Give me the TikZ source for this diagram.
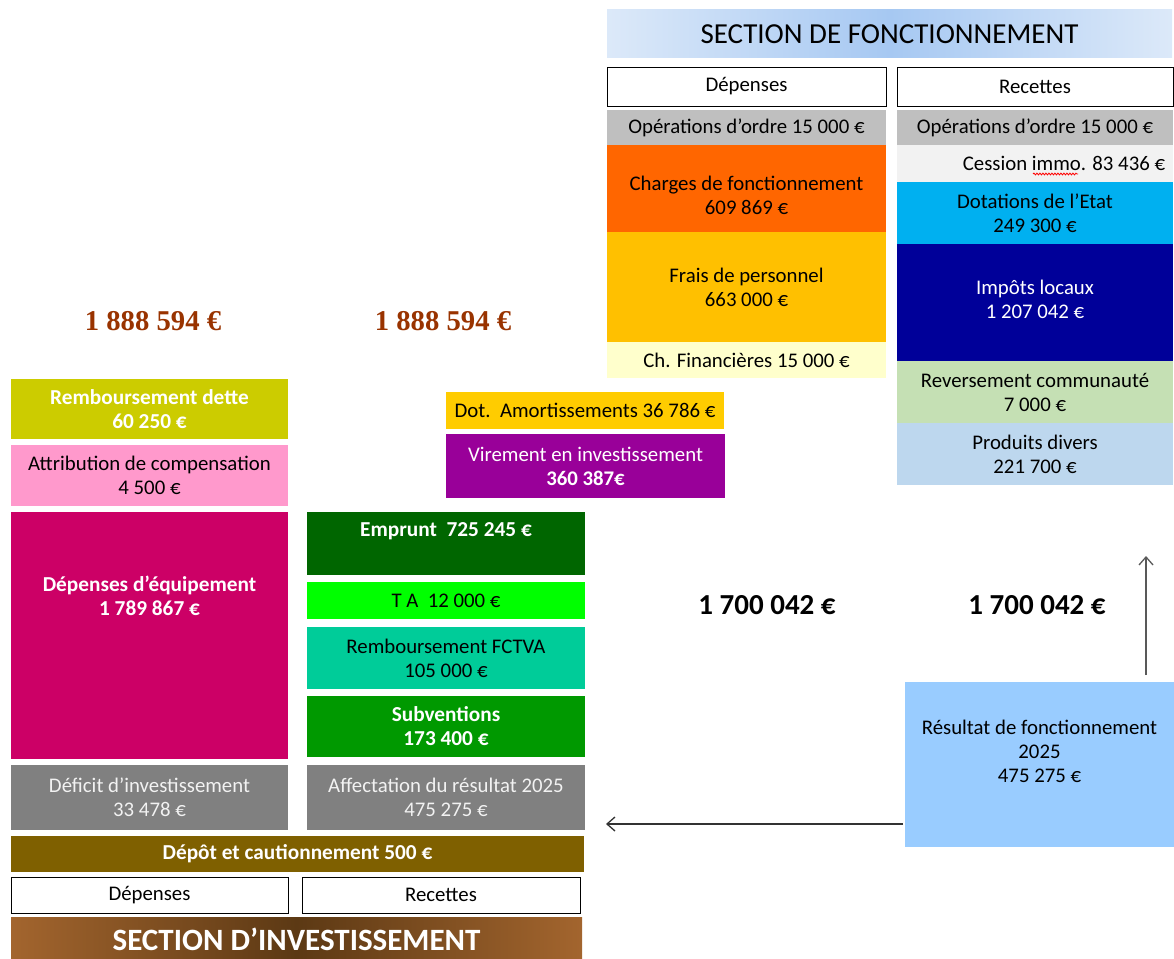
\documentclass[tikz,border=0pt]{standalone}
\usepackage{fontspec}
\setmainfont{Carlito}
\newfontfamily\totalfont{Liberation Serif}
\usetikzlibrary{arrows.meta, decorations.pathmorphing}

\definecolor{ordre}{HTML}{BFBFBF}
\definecolor{charges}{HTML}{FF6600}
\definecolor{personnel}{HTML}{FFC000}
\definecolor{financ}{HTML}{FFFFCC}
\definecolor{cession}{HTML}{F2F2F2}
\definecolor{dotation}{HTML}{00B0F0}
\definecolor{impots}{HTML}{000099}
\definecolor{reversement}{HTML}{C5E0B4}
\definecolor{produits}{HTML}{BDD7EE}
\definecolor{amort}{HTML}{FFCC00}
\definecolor{virement}{HTML}{990099}
\definecolor{dette}{HTML}{CCCC00}
\definecolor{attribution}{HTML}{FF99CC}
\definecolor{equipement}{HTML}{CC0066}
\definecolor{resgris}{HTML}{808080}
\definecolor{emprunt}{HTML}{006600}
\definecolor{taxe}{HTML}{00FF00}
\definecolor{fctva}{HTML}{00CC99}
\definecolor{subvention}{HTML}{009900}
\definecolor{depot}{HTML}{7F6000}
\definecolor{resultat}{HTML}{99CCFF}
\definecolor{total}{HTML}{993300}
\definecolor{bleuclair}{HTML}{DCE9F9}
\definecolor{bleumoyen}{HTML}{A6C8F2}
\definecolor{brunclair}{HTML}{A3652E}
\definecolor{brunfonce}{HTML}{5C3914}

\begin{document}
\begin{tikzpicture}[x=1pt, y=-1pt,
  every node/.style={outer sep=0pt, inner sep=0pt, align=center, font=\fontsize{20.8}{24}\selectfont},
  colF/.style={minimum width=279pt}, colR/.style={minimum width=276pt},
  colI/.style={minimum width=277pt}, colJ/.style={minimum width=278pt},
  ht/.style={minimum height=#1pt},
  entete/.style={draw=black, line width=1pt, fill=white},
  blanc/.style={text=white, font=\fontsize{21.3}{24}\selectfont\bfseries}]
\useasboundingbox (0,0) rectangle (1174,958);

% section de fonctionnement
\node[minimum width=565pt, ht=48, left color=bleuclair, right color=bleuclair, middle color=bleumoyen, font=\fontsize{29}{32}\selectfont] (titreF) at (889.5,34) {SECTION DE FONCTIONNEMENT};
\node[entete, colF, ht=39] (depF) at (746.5,86.5) {Dépenses};
\node[entete, colR, ht=39] (recF) at (1035,86.5) {Recettes};

\node[colF, ht=35, fill=ordre] (ordreD) at (746.5,127.5) {Opérations d’ordre 15 000 €};
\node[colF, ht=87, fill=charges, label={[yshift=-7pt]center:Charges de fonctionnement\\609 869 €}] (charges) at (746.5,188.5) {};
\node[colF, ht=110, fill=personnel] (personnel) at (746.5,287) {Frais de personnel\\663 000 €};
\node[colF, ht=36, fill=financ] (financ) at (746.5,360) {Ch. Financières 15 000 €};

\node[colR, ht=35, fill=ordre] (ordreR) at (1035,127.5) {Opérations d’ordre 15 000 €};
\node[colR, ht=37, fill=cession, label={[xshift=29pt]center:Cession immo. 83 436 €}] (cession) at (1035,163.5) {};
\node[colR, ht=62, fill=dotation] (dotation) at (1035,213) {Dotations de l’Etat\\249 300 €};
\node[colR, ht=117, fill=impots, text=white, label={[yshift=3pt, text=white]center:Impôts locaux\\1 207 042 €}] (impots) at (1035,302.5) {};
\node[colR, ht=62, fill=reversement] (reversement) at (1035,392) {Reversement communauté\\7 000 €};
\node[colR, ht=62, fill=produits] (produits) at (1035,454) {Produits divers\\221 700 €};
\draw[red, line width=0.8pt, decorate, decoration={snake, amplitude=0.9pt, segment length=3pt}] ([xshift=136pt, yshift=8pt]cession.south west) -- ([xshift=181pt, yshift=8pt]cession.south west);

% totaux
\node[text=total, font=\fontsize{28.7}{30}\selectfont\totalfont\bfseries] (totalD) at (153,321) {1 888 594 €};
\node[text=total, font=\fontsize{28.7}{30}\selectfont\totalfont\bfseries] (totalR) at (443,321) {1 888 594 €};
\node[font=\fontsize{29}{30}\selectfont\bfseries] (totalFD) at (767,605) {1 700 042 €};
\node[font=\fontsize{29}{30}\selectfont\bfseries] (totalFR) at (1037,605) {1 700 042 €};

% virements
\node[colJ, ht=37, fill=amort] (amort) at (585,410.5) {Dot.\ \ Amortissements 36 786 €};
\node[colF, ht=64, fill=virement, text=white] (virement) at (585.5,466) {Virement en investissement\\\textbf{360 387€}};

% section d'investissement
\node[colI, ht=60, fill=dette, blanc] (dette) at (149.5,409) {Remboursement dette\\60 250 €};
\node[colI, ht=61, fill=attribution] (attribution) at (149.5,475.5) {Attribution de compensation\\4 500 €};
\node[colI, ht=247, fill=equipement, label={[yshift=40pt, blanc]center:Dépenses d’équipement\\1 789 867 €}] (equipement) at (149.5,635.5) {};
\node[colI, ht=65, fill=resgris, text=cession] (deficit) at (149.5,797.5) {Déficit d’investissement\\33 478 €};

\node[colJ, ht=63, fill=emprunt, label={[yshift=12pt, blanc]center:Emprunt\ \ 725 245 €}] (emprunt) at (446,543.5) {};
\node[colJ, ht=37, fill=taxe] (taxe) at (446,600.5) {T A\ \ 12 000 €};
\node[colJ, ht=62, fill=fctva] (fctva) at (446,658) {Remboursement FCTVA\\105 000 €};
\node[colJ, ht=61, fill=subvention, blanc] (subvention) at (446,726.5) {Subventions\\173 400 €};
\node[colJ, ht=65, fill=resgris, text=cession] (affectation) at (446,797.5) {Affectation du résultat 2025\\475 275 €};

\node[minimum width=573pt, ht=36, fill=depot, blanc] (depot) at (297.5,854) {Dépôt et cautionnement 500 €};
\node[entete, colI, ht=36] (depI) at (149.5,895) {Dépenses};
\node[entete, colJ, ht=36] (recI) at (441,895) {Recettes};
\node[minimum width=571pt, ht=44, left color=brunclair, right color=brunclair, middle color=brunfonce, text=white, font=\fontsize{31}{32}\selectfont\bfseries] (titreI) at (296.5,939) {SECTION D’INVESTISSEMENT};

% resultat
\node[minimum width=269pt, ht=165, fill=resultat, label={[yshift=13.5pt]center:Résultat de fonctionnement\\2025\\475 275 €}] (resultat) at (1039.5,764.5) {};
\coordinate (versF) at (1146,556);
\coordinate (versI) at (606,824);
\draw[line width=1.3pt, black!65, -{Straight Barb[length=8pt, width=14pt]}, shorten <=7pt] ([xshift=-28pt]resultat.north east) -- (versF);
\draw[line width=1.3pt, black!80, -{Straight Barb[length=8pt, width=14pt]}, shorten <=2pt] ([yshift=23pt]resultat.south west) -- (versI);
\end{tikzpicture}
\end{document}
